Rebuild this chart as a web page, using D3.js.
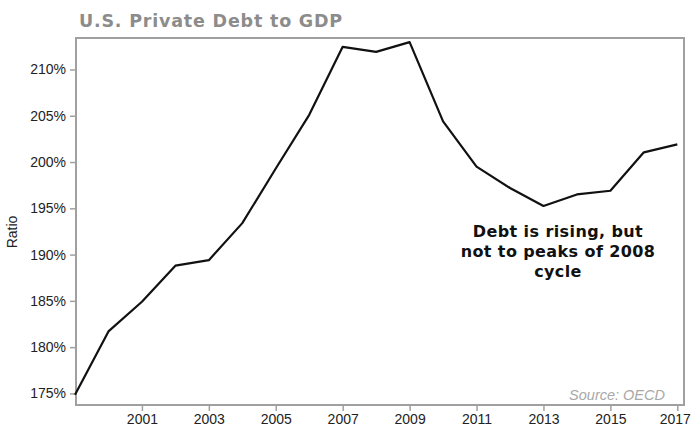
<!DOCTYPE html>
<html>
<head>
<meta charset="utf-8">
<script src="https://cdn.jsdelivr.net/npm/d3@7"></script>
<style>
  body { margin: 0; background: #fff; }
  svg { display: block; }
</style>
</head>
<body>
<div id="chart"></div>
<script>
/* Data */
const YEARS = [1999, 2000, 2001, 2002, 2003, 2004, 2005, 2006, 2007, 2008, 2009, 2010, 2011, 2012, 2013, 2014, 2015, 2016, 2017]
const DEBT_RATIO = [174.85, 181.7, 184.9, 188.8, 189.4, 193.4, 199.3, 205.1, 212.45, 211.9, 212.95, 204.4, 199.5, 197.2, 195.25, 196.5, 196.9, 201.05, 201.9]
const X_TICKS = [2001, 2003, 2005, 2007, 2009, 2011, 2013, 2015, 2017]
const Y_TICKS = [175, 180, 185, 190, 195, 200, 205, 210]
const TITLE = "U.S. Private Debt to GDP"
const NOTE_LINES = ["Debt is rising, but", "not to peaks of 2008", "cycle"]
const SOURCE = "Source: OECD"

/* Layout */
const WIDTH = 691
const HEIGHT = 427
const FRAME = {"LEFT": 76, "TOP": 38, "RIGHT": 684, "BOTTOM": 405}
const AXIS_COLOR = "#a0a0a0"

const svg = d3.select("#chart")
              .append("svg")
              .attr("width", WIDTH)
              .attr("height", HEIGHT);

const xScale = d3.scaleLinear()
                 .domain([1999.03, 2017.2])
                 .range([FRAME.LEFT, FRAME.RIGHT]);
const yScale = d3.scaleLinear()
                 .domain([173.75, 213.4])
                 .range([FRAME.BOTTOM, FRAME.TOP]);

/* Title */
svg.append("text")
   .attr("x", 79)
   .attr("y", 27)
   .attr("font-family", "DejaVu Sans")
   .attr("font-weight", "bold")
   .attr("font-size", 17.5)
   .attr("letter-spacing", 0.8)
   .attr("fill", "#8c8c8c")
   .text(TITLE);

/* Axes */
const xAxis = d3.axisBottom(xScale)
                .tickValues(X_TICKS)
                .tickFormat(d3.format("d"))
                .tickSize(6)
                .tickSizeOuter(0);
const yAxis = d3.axisLeft(yScale)
                .tickValues(Y_TICKS)
                .tickFormat((d) => d + "%")
                .tickSize(6)
                .tickSizeOuter(0);

const gx = svg.append("g")
              .attr("transform", "translate(0," + FRAME.BOTTOM + ")")
              .call(xAxis);
const gy = svg.append("g")
              .attr("transform", "translate(" + FRAME.LEFT + ",0)")
              .call(yAxis);

[gx, gy].forEach((g) => {
  g.select(".domain").remove();
  g.selectAll(".tick line").attr("stroke", AXIS_COLOR).attr("stroke-width", 1.5);
  g.selectAll(".tick text")
   .attr("font-family", "Liberation Sans, Arial, sans-serif")
   .attr("font-size", 14)
   .attr("fill", "#222");
});
gx.selectAll(".tick text").attr("dy", "0.71em").attr("y", 9);
// last label sits against the right edge, as in the source
gx.selectAll(".tick text")
  .filter((d) => d === 2017)
  .attr("text-anchor", "end")
  .attr("dx", 13);
gy.selectAll(".tick text").attr("x", -10);

/* Frame */
svg.append("rect")
   .attr("x", FRAME.LEFT)
   .attr("y", FRAME.TOP)
   .attr("width", FRAME.RIGHT - FRAME.LEFT)
   .attr("height", FRAME.BOTTOM - FRAME.TOP)
   .attr("fill", "none")
   .attr("stroke", AXIS_COLOR)
   .attr("stroke-width", 2);

/* Y label */
svg.append("text")
   .attr("transform", "translate(17,232) rotate(-90)")
   .attr("text-anchor", "middle")
   .attr("font-family", "Liberation Sans, Arial, sans-serif")
   .attr("font-size", 14)
   .attr("fill", "#222")
   .text("Ratio");

/* Line */
const line = d3.line()
               .x((d, i) => xScale(YEARS[i]))
               .y((d) => yScale(d));
svg.append("path")
   .datum(DEBT_RATIO)
   .attr("fill", "none")
   .attr("stroke", "#111")
   .attr("stroke-width", 2.2)
   .attr("stroke-linejoin", "round")
   .attr("d", line);

/* Annotation */
svg.append("text")
   .attr("x", 558)
   .attr("y", 237)
   .attr("text-anchor", "middle")
   .attr("font-family", "DejaVu Sans")
   .attr("font-weight", "bold")
   .attr("font-size", 16)
   .attr("letter-spacing", 0.4)
   .attr("fill", "#111")
   .selectAll("tspan")
   .data(NOTE_LINES)
   .enter()
   .append("tspan")
   .attr("x", 558)
   .attr("dy", (d, i) => i === 0 ? 0 : 20)
   .text((d) => d);

/* Source */
svg.append("text")
   .attr("x", 665)
   .attr("y", 400)
   .attr("text-anchor", "end")
   .attr("font-family", "Liberation Sans, Arial, sans-serif")
   .attr("font-style", "italic")
   .attr("font-size", 14.5)
   .attr("fill", "#a8a8a8")
   .text(SOURCE);
</script>
</body>
</html>
